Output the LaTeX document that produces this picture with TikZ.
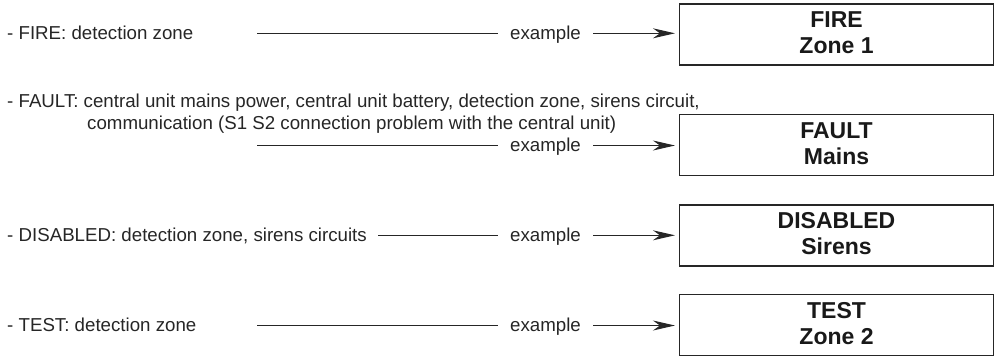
\documentclass[tikz,border=0pt]{standalone}
\usepackage{fontspec}
\setmainfont{Liberation Sans}
\usetikzlibrary{arrows.meta}
\begin{document}
\begin{tikzpicture}[x=1pt,y=-1pt,
  txt/.style={inner sep=0pt,anchor=base west,font=\fontsize{18.7}{22}\selectfont,text=black!85},
  exnode/.style={inner xsep=12pt,inner ysep=0pt,anchor=base,font=\fontsize{18.7}{22}\selectfont,text=black!85},
  dispbox/.style={draw=black!85,line width=1.1pt,minimum width=314pt,minimum height=61pt,inner sep=0pt},
  boxtxt/.style={inner sep=0pt,anchor=base,font=\fontsize{23}{26}\selectfont\bfseries,text=black!90},
  conn/.style={draw=black!85,line width=1.1pt},
  arr/.style={conn,-{Stealth[length=22pt,width=10pt,inset=7pt]},shorten >=4pt}]
\useasboundingbox (0,0) rectangle (995,360);
% boxes
\node[dispbox] (b1) at (836.5,34.5) {};
\node[dispbox] (b2) at (836.5,145) {};
\node[dispbox] (b3) at (836.5,235.5) {};
\node[dispbox] (b4) at (836.5,325) {};
\path (b1.center) ++(0,-7) node[boxtxt] (b1a) {FIRE} ++(0,26) node[boxtxt] (b1b) {Zone 1};
\path (b2.center) ++(0,-7) node[boxtxt] (b2a) {FAULT} ++(0,26) node[boxtxt] (b2b) {Mains};
\path (b3.center) ++(0,-7) node[boxtxt] (b3a) {DISABLED} ++(0,26) node[boxtxt] (b3b) {Sirens};
\path (b4.center) ++(0,-7) node[boxtxt] (b4a) {TEST} ++(0,26) node[boxtxt] (b4b) {Zone 2};
% left texts
\node[txt] (t1) at (7,39.5) {- FIRE: detection zone};
\node[txt] (t2) at (7,107) {- FAULT: central unit mains power, central unit battery, detection zone, sirens circuit,};
\node[txt] (t2b) at (87,129.5) {communication (S1 S2 connection problem with the central unit)};
\node[txt] (t3) at (7,241.5) {- DISABLED: detection zone, sirens circuits};
\node[txt] (t4) at (7,331.5) {- TEST: detection zone};
% example labels
\node[exnode] (e1) at (545.5,39.5) {example};
\node[exnode] (e2) at (545.5,151.5) {example};
\node[exnode] (e3) at (545.5,241.5) {example};
\node[exnode] (e4) at (545.5,331.5) {example};
% line start coordinates
\coordinate (s1) at (257,33.3);
\coordinate (s2) at (257,145.5);
\coordinate (s3) at (378,235.3);
\coordinate (s4) at (257,325.5);
% connectors
\draw[conn] (s1) -- (s1 -| e1.west);
\draw[arr] (s1 -| e1.east) -- (s1 -| b1.west);
\draw[conn] (s2) -- (s2 -| e2.west);
\draw[arr] (s2 -| e2.east) -- (s2 -| b2.west);
\draw[conn] (s3) -- (s3 -| e3.west);
\draw[arr] (s3 -| e3.east) -- (s3 -| b3.west);
\draw[conn] (s4) -- (s4 -| e4.west);
\draw[arr] (s4 -| e4.east) -- (s4 -| b4.west);
\end{tikzpicture}
\end{document}
